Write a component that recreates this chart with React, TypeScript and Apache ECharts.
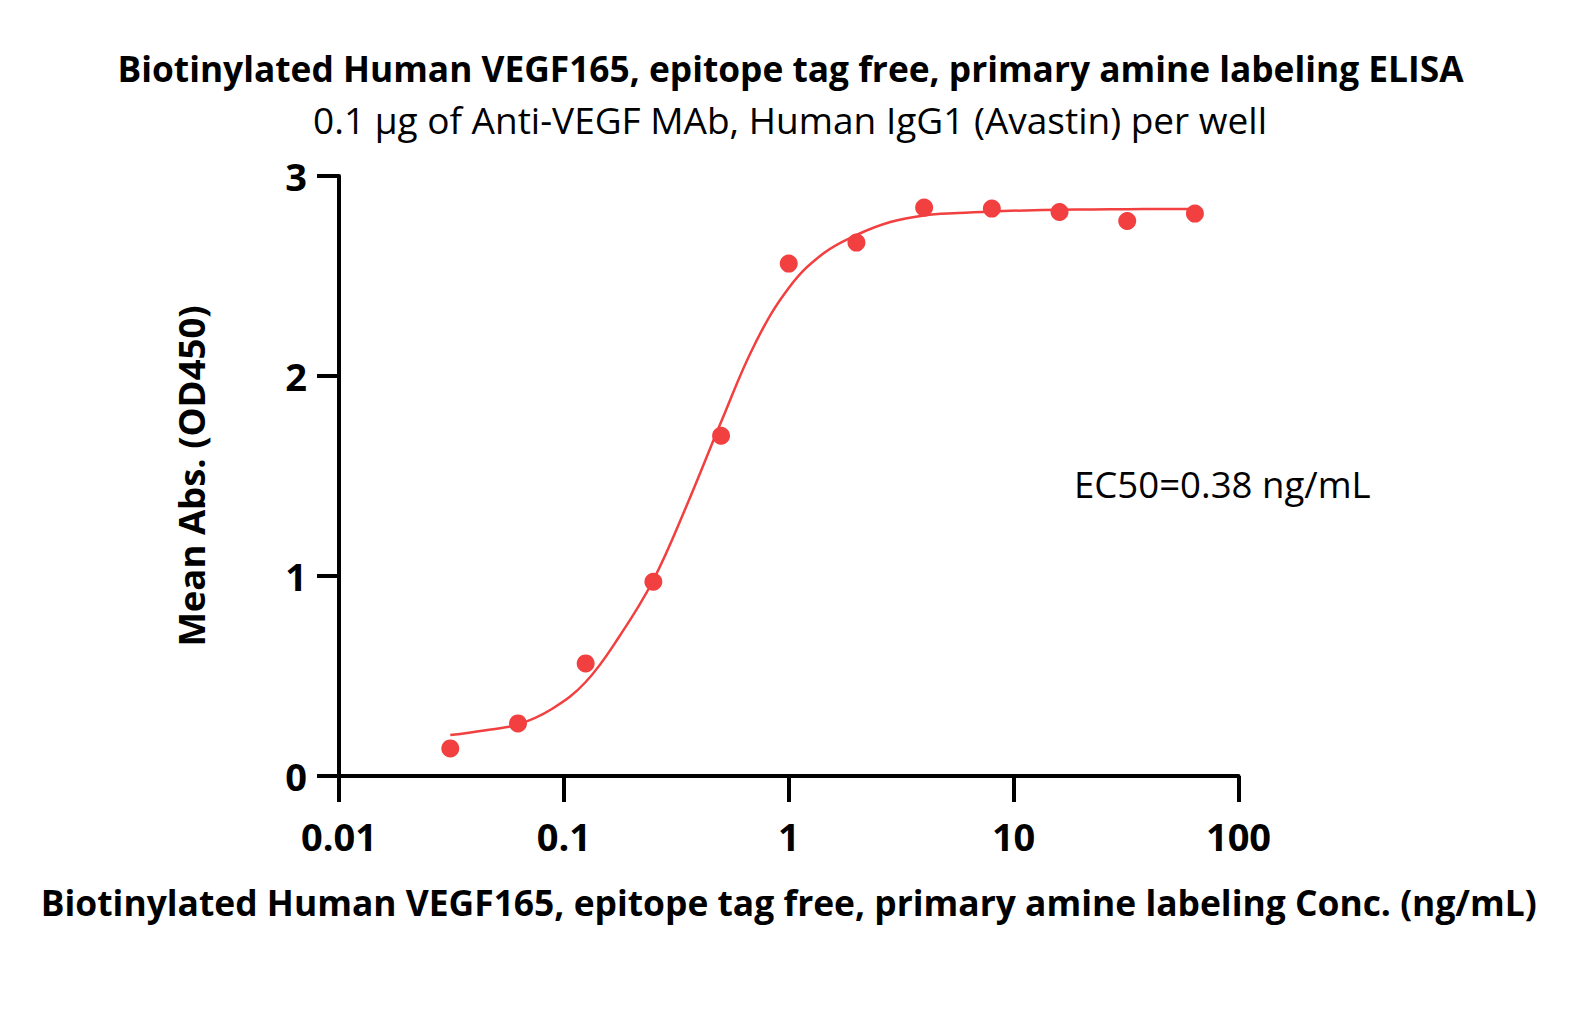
import React, { useEffect, useRef } from 'react';
import * as echarts from 'echarts';

const FONT = 'Open Sans';
const RED = '#F23F3F';

const titleText = 'Biotinylated Human VEGF165, epitope tag free, primary amine labeling ELISA';
const subtitleText = '0.1 µg of Anti-VEGF MAb, Human IgG1 (Avastin) per well';
const xAxisTitle = 'Biotinylated Human VEGF165, epitope tag free, primary amine labeling Conc. (ng/mL)';
const yAxisTitle = 'Mean Abs. (OD450)';
const ec50Text = 'EC50=0.38 ng/mL';

const xTickLabels = ['0.01', '0.1', '1', '10', '100'];
const yTickLabels = ['0', '1', '2', '3'];

// measured points
const concentrations = [0.03125, 0.0625, 0.125, 0.25, 0.5, 1, 2, 4, 8, 16, 32, 64];
const meanAbs = [0.138, 0.263, 0.563, 0.971, 1.701, 2.562, 2.667, 2.842, 2.837, 2.82, 2.775, 2.812];

// fitted curve at half-dilution steps
const fitConc = [0.03125, 0.0442, 0.0625, 0.0884, 0.125, 0.177, 0.25, 0.354, 0.5, 0.707, 1, 1.414, 2, 2.83, 4, 5.66, 8, 11.3, 16, 22.6, 32, 45.3, 64];
const fitAbs = [0.205, 0.228, 0.258, 0.335, 0.47, 0.7, 0.98, 1.36, 1.77, 2.16, 2.44, 2.61, 2.705, 2.77, 2.803, 2.815, 2.823, 2.828, 2.831, 2.833, 2.834, 2.835, 2.835];

export default function App() {
  const ref = useRef<HTMLDivElement>(null);
  useEffect(() => {
    document.body.style.margin = '0';
    const chart = echarts.init(ref.current!, null, { renderer: 'svg' });
    const axisFont = { fontFamily: FONT, fontWeight: 'bold' as const, color: '#000' };
    chart.setOption({
      animation: false,
      backgroundColor: '#fff',
      textStyle: { fontFamily: FONT },
      grid: { left: 339, right: 342.5, top: 176, bottom: 247, containLabel: false },
      graphic: [
        {
          type: 'text',
          x: 790.5,
          y: 68,
          style: { text: titleText, fontFamily: FONT, fontWeight: 'bold', fontSize: 35.3, fill: '#000', textAlign: 'center', textVerticalAlign: 'middle' },
        },
        {
          type: 'text',
          x: 790,
          y: 119,
          style: { text: subtitleText, fontFamily: FONT, fontSize: 37, fill: '#000', textAlign: 'center', textVerticalAlign: 'middle' },
        },
        {
          type: 'text',
          x: 1074,
          y: 484,
          style: { text: ec50Text, fontFamily: FONT, fontSize: 36.6, fill: '#000', textAlign: 'left', textVerticalAlign: 'middle' },
        },
      ],
      xAxis: {
        type: 'log',
        logBase: 10,
        min: 0.01,
        max: 100,
        axisLine: { lineStyle: { color: '#000', width: 4 } },
        axisTick: { length: 26, lineStyle: { color: '#000', width: 4 } },
        minorTick: { show: false },
        splitLine: { show: false },
        axisLabel: {
          ...axisFont,
          fontSize: 38,
          margin: 41,
          formatter: (v: number) => xTickLabels[Math.round(Math.log10(v)) + 2],
        },
        name: xAxisTitle,
        nameLocation: 'middle',
        nameGap: 108,
        nameTextStyle: { ...axisFont, fontSize: 35.4 },
      },
      yAxis: {
        type: 'value',
        min: 0,
        max: 3,
        interval: 1,
        axisLine: { show: true, lineStyle: { color: '#000', width: 4 } },
        axisTick: { show: true, length: 22, lineStyle: { color: '#000', width: 4 } },
        splitLine: { show: false },
        axisLabel: {
          ...axisFont,
          fontSize: 38,
          margin: 32,
          formatter: (v: number) => yTickLabels[Math.round(v)],
        },
        name: yAxisTitle,
        nameLocation: 'middle',
        nameGap: 130,
        nameRotate: 90,
        nameTextStyle: { ...axisFont, fontSize: 36.5 },
      },
      series: [
        {
          type: 'line',
          data: fitConc.map((c, i) => [c, fitAbs[i]]),
          showSymbol: false,
          smooth: 0.4,
          lineStyle: { color: RED, width: 2.5 },
          silent: true,
          z: 2,
        },
        {
          type: 'scatter',
          data: concentrations.map((c, i) => [c, meanAbs[i]]),
          symbol: 'circle',
          symbolSize: 18,
          itemStyle: { color: RED, opacity: 1 },
          z: 3,
        },
      ],
    });
    return () => chart.dispose();
  }, []);
  return <div ref={ref} style={{ width: 1581, height: 1023 }} />;
}
